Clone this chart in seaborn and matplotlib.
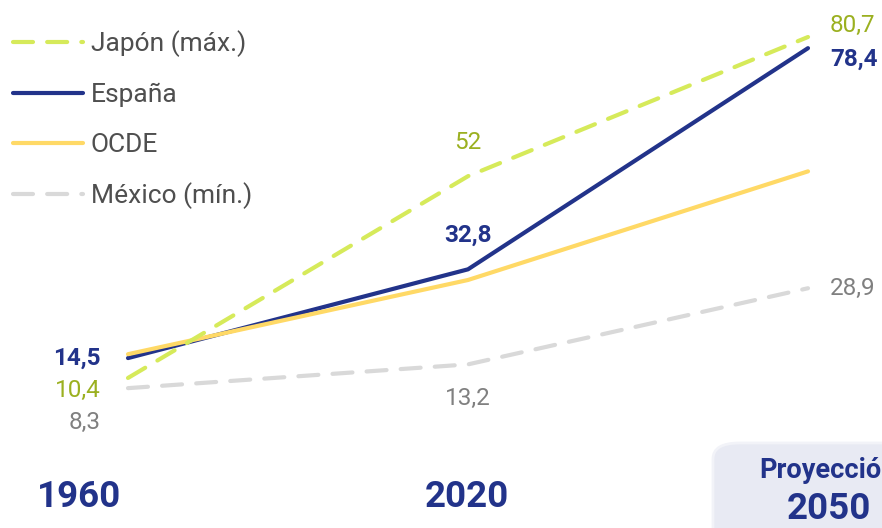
import matplotlib
matplotlib.use("Agg")
import matplotlib.pyplot as plt
import seaborn as sns
from matplotlib.patches import FancyBboxPatch

# datos (esperanza de vida / edad)
years = ["1960", "2020", "2050"]
xpos = [0, 1, 2]
japon = [10.4, 52, 80.7]
espana = [14.5, 32.8, 78.4]
ocde = [15.3, 30.6, 53.0]
mexico = [8.3, 13.2, 28.9]

navy = "#22338a"
lime = "#d6ea5a"
olive = "#9bb020"
yellow = "#ffd966"
lgrey = "#d9d9d9"
dgrey = "#808080"

sns.set_style("white")
plt.rcParams['font.family'] = ['Roboto', 'DejaVu Sans']

fig = plt.figure(figsize=(8.82, 5.28), dpi=100)
ax = fig.add_axes([0, 0, 1, 1])

# 1960 -> 128px, 2020 -> 468px, 2050 -> 808px ; y: 0 -> 428px, 4.85 px/unidad
ax.set_xlim(-128 / 340, (882 - 128) / 340)
ax.set_ylim(-(528 - 428.4) / 4.85, 428.4 / 4.85)
ax.axis("off")

lw = 3.0
sns.lineplot(x=xpos, y=mexico, ax=ax, color=lgrey, lw=lw, label="México (mín.)")
ax.lines[-1].set_dashes([4.8, 3.4])
sns.lineplot(x=xpos, y=espana, ax=ax, color=navy, lw=lw, label="España")
sns.lineplot(x=xpos, y=ocde, ax=ax, color=yellow, lw=lw, label="OCDE")
sns.lineplot(x=xpos, y=japon, ax=ax, color=lime, lw=lw, label="Japón (máx.)")
ax.lines[-1].set_dashes([4.8, 3.4])
for ln in ax.lines:
    ln.set_dash_capstyle("round")
    ln.set_solid_capstyle("round")

handles, labels = ax.get_legend_handles_labels()
order = [3, 1, 2, 0]
leg = ax.legend([handles[i] for i in order], [labels[i] for i in order],
                loc="upper left", bbox_to_anchor=(0.0147, 0.942), frameon=False,
                fontsize=19, handlelength=2.65, handletextpad=0.3, labelspacing=0.97,
                borderpad=0, borderaxespad=0)
for t in leg.get_texts():
    t.set_color("#4f4f4f")

fs = 17.5
# etiquetas 1960
ax.text(-0.08, espana[0], "14,5", color=navy, fontsize=fs, fontweight="bold", ha="right", va="center")
ax.text(-0.08, japon[0] - 2.5, "10,4", color=olive, fontsize=fs, ha="right", va="center")
ax.text(-0.08, mexico[0] - 7.0, "8,3", color=dgrey, fontsize=fs, ha="right", va="center")
# etiquetas 2020
ax.text(1, japon[1] + 7.0, "52", color=olive, fontsize=fs, ha="center", va="center")
ax.text(1, espana[1] + 7.0, "32,8", color=navy, fontsize=fs, fontweight="bold", ha="center", va="center")
ax.text(1, mexico[1] - 7.0, "13,2", color=dgrey, fontsize=fs, ha="center", va="center")
# etiquetas 2050
ax.text(2.065, japon[2] + 2.3, "80,7", color=olive, fontsize=fs, ha="left", va="center")
ax.text(2.065, espana[2] - 2.3, "78,4", color=navy, fontsize=fs, fontweight="bold", ha="left", va="center")
ax.text(2.065, mexico[2], "28,9", color=dgrey, fontsize=fs, ha="left", va="center")

# caja de proyección
box = FancyBboxPatch((713 / 882, -0.1), 230 / 882, 0.1 + 85 / 528,
                     boxstyle="round,pad=0,rounding_size=0.03",
                     transform=fig.transFigure, facecolor="#e8eaf3",
                     edgecolor="#f2f3f8", lw=2, zorder=0)
fig.patches.append(box)
fig.text(828 / 882, 1 - 470 / 528, "Proyección", color=navy, fontsize=19.5,
         fontweight="bold", ha="center", va="center")

# años
yfs = 26.5
fig.text(79 / 882, 1 - 497 / 528, years[0], color=navy, fontsize=yfs, fontweight="bold", ha="center", va="center")
fig.text(467 / 882, 1 - 497 / 528, years[1], color=navy, fontsize=yfs, fontweight="bold", ha="center", va="center")
fig.text(829 / 882, 1 - 509 / 528, years[2], color=navy, fontsize=yfs, fontweight="bold", ha="center", va="center")

fig.savefig("out.png", dpi=100)
